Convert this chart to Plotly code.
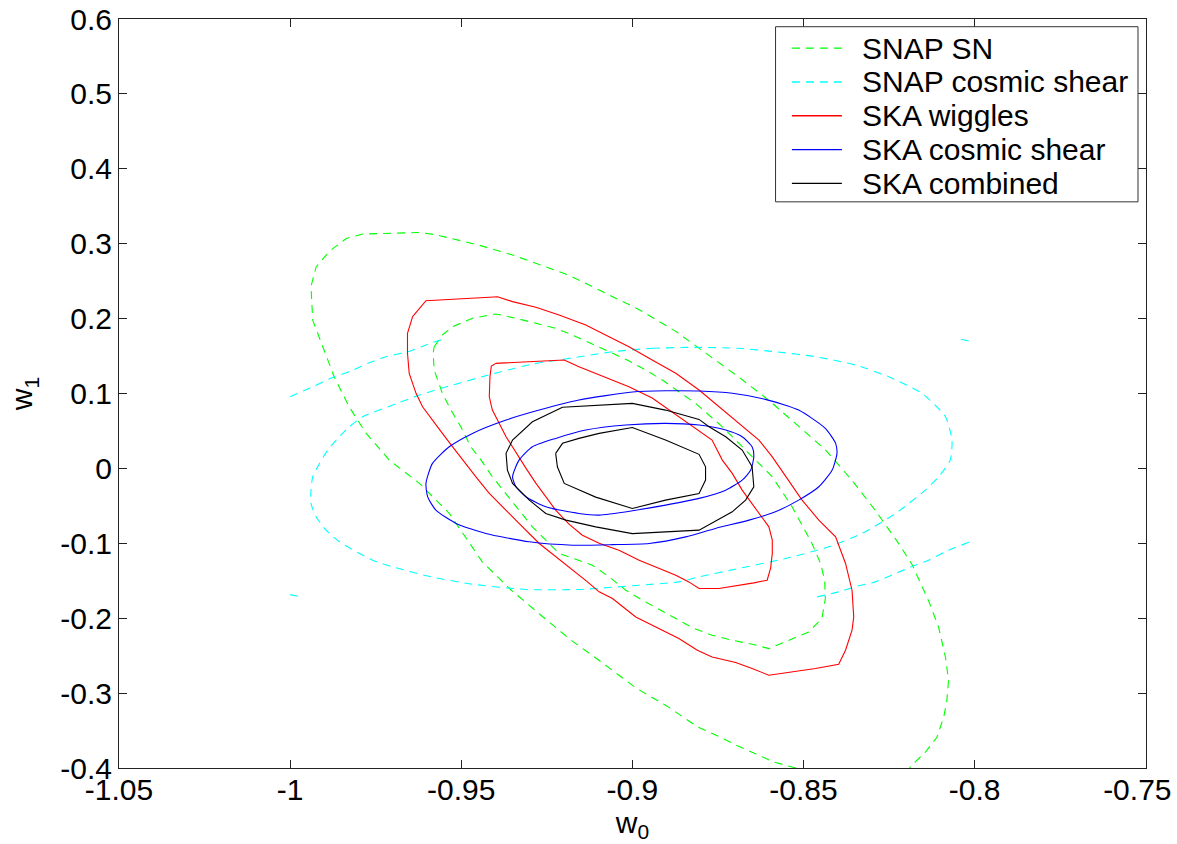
import plotly.graph_objects as go

# ---------------- data (w0, w1) ----------------
# SNAP SN (green dashed): outer contour (open, cut by the w1=-0.4 axis) and inner contour
snap_sn_outer_w0 = [-0.8522, -0.8587, -0.8640, -0.8694, -0.8742, -0.8810, -0.8893, -0.8990, -0.9083, -0.9180,
                    -0.9267, -0.9355, -0.9438, -0.9535, -0.9622, -0.9710, -0.9778, -0.9827, -0.9871, -0.9905,
                    -0.9934, -0.9939, -0.9924, -0.9885, -0.9836, -0.9788, -0.9622, -0.9574, -0.9506, -0.9447,
                    -0.9350, -0.9282, -0.9185, -0.9078, -0.8980, -0.8873, -0.8786, -0.8689, -0.8601, -0.8514,
                    -0.8436, -0.8358, -0.8290, -0.8222, -0.8183, -0.8134, -0.8105, -0.8085, -0.8076, -0.8081,
                    -0.8090, -0.8110, -0.8144, -0.8183, -0.8190]
snap_sn_outer_w1 = [-0.400, -0.392, -0.381, -0.370, -0.359, -0.345, -0.319, -0.293, -0.261, -0.229,
                    -0.196, -0.162, -0.125, -0.060, -0.020, 0.011, 0.047, 0.082, 0.122, 0.163,
                    0.198, 0.243, 0.269, 0.290, 0.307, 0.313, 0.315, 0.312, 0.305, 0.298,
                    0.285, 0.274, 0.258, 0.234, 0.212, 0.183, 0.154, 0.122, 0.091, 0.056,
                    0.025, -0.016, -0.056, -0.100, -0.128, -0.177, -0.212, -0.252, -0.283, -0.310,
                    -0.332, -0.359, -0.379, -0.396, -0.400]
snap_sn_inner_w0 = [-0.9579, -0.9555, -0.9525, -0.9467, -0.9399, -0.9340, -0.9282, -0.9224, -0.9175, -0.9121,
                    -0.9068, -0.9015, -0.8961, -0.8912, -0.8864, -0.8815, -0.8737, -0.8650, -0.8591, -0.8533,
                    -0.8475, -0.8450, -0.8438, -0.8436, -0.8446, -0.8484, -0.8543, -0.8601, -0.8650, -0.8708,
                    -0.8767, -0.8820, -0.8873, -0.8922, -0.8971, -0.9019, -0.9068, -0.9117, -0.9214, -0.9253,
                    -0.9292, -0.9331, -0.9369, -0.9409, -0.9442, -0.9472, -0.9501, -0.9530, -0.9555, -0.9579,
                    -0.9582, -0.9579]
snap_sn_inner_w1 = [0.1625, 0.1782, 0.1893, 0.2005, 0.2062, 0.2005, 0.1938, 0.1871, 0.1782, 0.1671,
                    0.1558, 0.1448, 0.1314, 0.1180, 0.1024, 0.0869, 0.0556, 0.0155, -0.0112, -0.0513,
                    -0.1002, -0.1269, -0.1492, -0.1737, -0.2004, -0.2183, -0.2294, -0.2405, -0.2347, -0.2294,
                    -0.2227, -0.2137, -0.2004, -0.1884, -0.1759, -0.1626, -0.1448, -0.1292, -0.1135, -0.0958,
                    -0.0780, -0.0557, -0.0334, -0.0112, 0.0111, 0.0289, 0.0556, 0.0779, 0.1003, 0.1314,
                    0.1537, 0.1625]

# SNAP cosmic shear (cyan dashed): outer contour is clipped by the computed grid -> four pieces
snap_cs_outer_ul_w0 = [-1.0000, -0.9934, -0.9871, -0.9827, -0.9773, -0.9720, -0.9657, -0.9603, -0.9555]
snap_cs_outer_ul_w1 = [0.0957, 0.1091, 0.1224, 0.1291, 0.1403, 0.1492, 0.1558, 0.1648, 0.1724]
snap_cs_outer_ur_w0 = [-0.8040, -0.8000]
snap_cs_outer_ur_w1 = [0.1724, 0.1685]
snap_cs_outer_ll_w0 = [-1.0000, -0.9960]
snap_cs_outer_ll_w1 = [-0.1685, -0.1724]
snap_cs_outer_lr_w0 = [-0.8460, -0.8397, -0.8343, -0.8290, -0.8231, -0.8173, -0.8134, -0.8076, -0.8000]
snap_cs_outer_lr_w1 = [-0.1715, -0.1648, -0.1572, -0.1515, -0.1403, -0.1292, -0.1225, -0.1091, -0.0958]
snap_cs_inner_w0 = [-0.9058, -0.8942, -0.8815, -0.8689, -0.8582, -0.8465, -0.8348, -0.8251, -0.8154, -0.8085,
                    -0.8066, -0.8071, -0.8105, -0.8144, -0.8231, -0.8329, -0.8426, -0.8552, -0.8689, -0.8805,
                    -0.8864, -0.8980, -0.9156, -0.9311, -0.9467, -0.9588, -0.9700, -0.9759, -0.9856, -0.9895,
                    -0.9924, -0.9939, -0.9939, -0.9934, -0.9914, -0.9890, -0.9861, -0.9827, -0.9788, -0.9700,
                    -0.9622, -0.9525, -0.9409, -0.9292, -0.9214, -0.9058]
snap_cs_inner_w1 = [0.1558, 0.1604, 0.1617, 0.1604, 0.1558, 0.1492, 0.1381, 0.1224, 0.1003, 0.0690,
                    0.0379, 0.0111, -0.0112, -0.0290, -0.0601, -0.0868, -0.1047, -0.1202, -0.1336, -0.1448,
                    -0.1515, -0.1559, -0.1616, -0.1616, -0.1546, -0.1448, -0.1314, -0.1225, -0.0980, -0.0824,
                    -0.0646, -0.0467, -0.0290, -0.0112, 0.0067, 0.0245, 0.0401, 0.0556, 0.0690, 0.0846,
                    0.0980, 0.1114, 0.1261, 0.1394, 0.1448, 0.1558]

# SKA wiggles (red solid)
ska_wig_outer_w0 = [-0.9642, -0.9603, -0.9418, -0.9394, -0.9350, -0.9282, -0.9214, -0.9136, -0.9068, -0.9010,
                    -0.8942, -0.8873, -0.8805, -0.8747, -0.8689, -0.8630, -0.8591, -0.8552, -0.8504, -0.8455,
                    -0.8406, -0.8377, -0.8358, -0.8353, -0.8358, -0.8377, -0.8397, -0.8465, -0.8572, -0.8601,
                    -0.8650, -0.8698, -0.8767, -0.8810, -0.8864, -0.8922, -0.8990, -0.9058, -0.9097, -0.9131,
                    -0.9185, -0.9224, -0.9272, -0.9331, -0.9379, -0.9418, -0.9457, -0.9496, -0.9525, -0.9555,
                    -0.9584, -0.9613, -0.9632, -0.9652, -0.9657, -0.9657, -0.9642]
ska_wig_outer_w1 = [0.2026, 0.2240, 0.2285, 0.2293, 0.2227, 0.2152, 0.2049, 0.1915, 0.1759, 0.1625,
                    0.1448, 0.1270, 0.1047, 0.0824, 0.0602, 0.0379, 0.0155, -0.0112, -0.0423, -0.0690,
                    -0.0914, -0.1269, -0.1626, -0.1983, -0.2160, -0.2427, -0.2614, -0.2672, -0.2739, -0.2761,
                    -0.2672, -0.2592, -0.2517, -0.2427, -0.2271, -0.2137, -0.1983, -0.1737, -0.1648, -0.1515,
                    -0.1314, -0.1181, -0.1002, -0.0734, -0.0513, -0.0334, -0.0112, 0.0111, 0.0289, 0.0468,
                    0.0646, 0.0824, 0.1003, 0.1270, 0.1537, 0.1804, 0.2026]
ska_wig_inner_w0 = [-0.9399, -0.9253, -0.9199, -0.9156, -0.9097, -0.9010, -0.8942, -0.8864, -0.8805, -0.8767,
                    -0.8737, -0.8708, -0.8679, -0.8650, -0.8621, -0.8601, -0.8591, -0.8591, -0.8596, -0.8606,
                    -0.8645, -0.8747, -0.8805, -0.8835, -0.8873, -0.8942, -0.8980, -0.9039, -0.9097, -0.9146,
                    -0.9185, -0.9224, -0.9253, -0.9282, -0.9311, -0.9340, -0.9369, -0.9394, -0.9409, -0.9418,
                    -0.9416, -0.9412, -0.9399]
ska_wig_inner_w1 = [0.1403, 0.1438, 0.1448, 0.1358, 0.1247, 0.1091, 0.0940, 0.0690, 0.0512, 0.0379,
                    0.0111, -0.0066, -0.0290, -0.0467, -0.0646, -0.0780, -0.0958, -0.1135, -0.1332, -0.1492,
                    -0.1528, -0.1603, -0.1603, -0.1515, -0.1425, -0.1292, -0.1225, -0.1091, -0.0998, -0.0891,
                    -0.0744, -0.0557, -0.0383, -0.0196, 0.0004, 0.0218, 0.0423, 0.0646, 0.0779, 0.0957,
                    0.1224, 0.1367, 0.1403]

# SKA cosmic shear (blue solid)
ska_cs_outer_w0 = [-0.9603, -0.9584, -0.9535, -0.9467, -0.9369, -0.9272, -0.9156, -0.9000, -0.8903, -0.8805,
                   -0.8708, -0.8611, -0.8514, -0.8436, -0.8406, -0.8402, -0.8416, -0.8455, -0.8514, -0.8582,
                   -0.8659, -0.8757, -0.8844, -0.8951, -0.9058, -0.9175, -0.9301, -0.9428, -0.9515, -0.9574,
                   -0.9598, -0.9603]
ska_cs_outer_w1 = [-0.0200, 0.0067, 0.0289, 0.0468, 0.0646, 0.0779, 0.0913, 0.1020, 0.1037, 0.1033,
                   0.1003, 0.0922, 0.0779, 0.0535, 0.0335, 0.0201, -0.0022, -0.0245, -0.0423, -0.0579,
                   -0.0690, -0.0801, -0.0914, -0.1002, -0.1018, -0.1025, -0.0980, -0.0868, -0.0734, -0.0557,
                   -0.0379, -0.0200]
ska_cs_inner_w0 = [-0.9350, -0.9331, -0.9292, -0.9224, -0.9136, -0.9019, -0.8903, -0.8805, -0.8727, -0.8679,
                   -0.8650, -0.8645, -0.8654, -0.8679, -0.8727, -0.8805, -0.8903, -0.9000, -0.9097, -0.9156,
                   -0.9253, -0.9311, -0.9340, -0.9350]
ska_cs_inner_w1 = [-0.0112, 0.0111, 0.0289, 0.0401, 0.0512, 0.0579, 0.0602, 0.0579, 0.0512, 0.0423,
                   0.0289, 0.0155, -0.0022, -0.0156, -0.0290, -0.0400, -0.0490, -0.0566, -0.0623, -0.0601,
                   -0.0513, -0.0379, -0.0245, -0.0112]

# SKA combined (black solid)
ska_comb_outer_w0 = [-0.9204, -0.9097, -0.9000, -0.8903, -0.8805, -0.8776, -0.8727, -0.8679, -0.8650, -0.8645,
                     -0.8669, -0.8708, -0.8805, -0.8903, -0.9000, -0.9107, -0.9194, -0.9253, -0.9301, -0.9350,
                     -0.9365, -0.9369, -0.9350, -0.9292, -0.9204]
ska_comb_outer_w1 = [0.0816, 0.0846, 0.0869, 0.0779, 0.0655, 0.0556, 0.0423, 0.0245, 0.0022, -0.0245,
                     -0.0423, -0.0579, -0.0824, -0.0847, -0.0871, -0.0780, -0.0690, -0.0601, -0.0423, -0.0200,
                     -0.0022, 0.0201, 0.0379, 0.0623, 0.0816]
ska_comb_inner_w0 = [-0.9224, -0.9204, -0.9156, -0.9097, -0.9000, -0.8903, -0.8805, -0.8786, -0.8786, -0.8805,
                     -0.8903, -0.9000, -0.9107, -0.9199, -0.9219, -0.9224]
ska_comb_inner_w1 = [0.0201, 0.0335, 0.0401, 0.0468, 0.0546, 0.0379, 0.0188, 0.0022, -0.0156, -0.0334,
                     -0.0423, -0.0534, -0.0383, -0.0200, 0.0022, 0.0201]

# axis ticks (the last x label is nudged left like in the reference, via trailing no-break spaces)
x_ticks = [-1.05, -1.0, -0.95, -0.9, -0.85, -0.8, -0.75]
x_tick_labels = ["-1.05", "-1", "-0.95", "-0.9", "-0.85", "-0.8", "-0.75\u00a0\u00a0"]
y_ticks = [-0.4, -0.3, -0.2, -0.1, 0.0, 0.1, 0.2, 0.3, 0.4, 0.5, 0.6]
y_tick_labels = ["-0.4", "-0.3", "-0.2", "-0.1", "0", "0.1", "0.2", "0.3", "0.4", "0.5", "0.6"]

# legend entries (label, colour, dashed?)
legend_labels = ["SNAP SN", "SNAP cosmic shear", "SKA wiggles", "SKA cosmic shear", "SKA combined"]
legend_colors = ["#00ff00", "#00ffff", "#ff0000", "#0000ff", "#000000"]
legend_dashed = [True, True, False, False, False]

DASH = "8px,6px"


def joined(*pieces):
    xs, ys = [], []
    for i, (px, py) in enumerate(pieces):
        if i:
            xs.append(None)
            ys.append(None)
        xs.extend(px)
        ys.extend(py)
    return xs, ys


series_pieces = [
    [(snap_sn_outer_w0, snap_sn_outer_w1), (snap_sn_inner_w0, snap_sn_inner_w1)],
    [(snap_cs_outer_ul_w0, snap_cs_outer_ul_w1), (snap_cs_outer_ur_w0, snap_cs_outer_ur_w1),
     (snap_cs_outer_ll_w0, snap_cs_outer_ll_w1), (snap_cs_outer_lr_w0, snap_cs_outer_lr_w1),
     (snap_cs_inner_w0, snap_cs_inner_w1)],
    [(ska_wig_outer_w0, ska_wig_outer_w1), (ska_wig_inner_w0, ska_wig_inner_w1)],
    [(ska_cs_outer_w0, ska_cs_outer_w1), (ska_cs_inner_w0, ska_cs_inner_w1)],
    [(ska_comb_outer_w0, ska_comb_outer_w1), (ska_comb_inner_w0, ska_comb_inner_w1)],
]
series_shape = ["linear", "spline", "linear", "spline", "linear"]

fig = go.Figure()
for name, color, dashed, pieces, shape in zip(legend_labels, legend_colors, legend_dashed,
                                              series_pieces, series_shape):
    xs, ys = joined(*pieces)
    line = dict(color=color, width=1.1, dash=DASH if dashed else "solid", shape=shape)
    if shape == "spline":
        line["smoothing"] = 0.6
    fig.add_trace(go.Scatter(x=xs, y=ys, mode="lines", name=name, connectgaps=False,
                             line=line, showlegend=False))

font_family = "Liberation Sans, Arial, Helvetica, sans-serif"
axis_common = dict(
    showline=True, linecolor="#222222", linewidth=1, mirror="ticks",
    ticks="inside", ticklen=8, tickcolor="#222222", tickwidth=1,
    showgrid=False, zeroline=False,
    tickfont=dict(family=font_family, size=30, color="black"),
    ticklabeloverflow="allow",
)

# ---- legend box drawn in paper coordinates (MATLAB-style compact legend) ----
box_x0, box_x1 = 0.6393, 0.9922
box_y1, box_y0 = 0.9897, 0.7559
row_top = 0.9610
row_step = 0.0451
line_x0, line_x1 = 0.6552, 0.7039
text_x = 0.7214

shapes = [dict(type="rect", xref="paper", yref="paper", x0=box_x0, x1=box_x1, y0=box_y0, y1=box_y1,
               line=dict(color="#333333", width=1), fillcolor="white", layer="above")]
annotations = []
for i, (lab, col, dashed) in enumerate(zip(legend_labels, legend_colors, legend_dashed)):
    yy = row_top - i * row_step
    shapes.append(dict(type="line", xref="paper", yref="paper", x0=line_x0, x1=line_x1, y0=yy, y1=yy,
                       line=dict(color=col, width=1.3, dash=DASH if dashed else "solid"), layer="above"))
    annotations.append(dict(xref="paper", yref="paper", x=text_x, y=yy, text=lab, showarrow=False,
                            xanchor="left", yanchor="middle",
                            font=dict(family=font_family, size=30, color="black")))

fig.update_layout(
    width=1177, height=844,
    margin=dict(l=119, r=31, t=19, b=76, autoexpand=False),
    paper_bgcolor="white", plot_bgcolor="white",
    font=dict(family=font_family, size=30, color="black"),
    xaxis=dict(range=[-1.05, -0.7499], tickmode="array", tickvals=x_ticks, ticktext=x_tick_labels,
               title=dict(text="w<sub>0</sub>", standoff=0, font=dict(size=30)), automargin=False,
               ticklabelstandoff=-5, **axis_common),
    yaxis=dict(range=[-0.4, 0.6001], tickmode="array", tickvals=y_ticks, ticktext=y_tick_labels,
               title=dict(text="w<sub>1</sub>", standoff=18, font=dict(size=30)), automargin=False,
               **axis_common),
    shapes=shapes,
    annotations=annotations,
    showlegend=False,
)

fig.write_html("out.html")
